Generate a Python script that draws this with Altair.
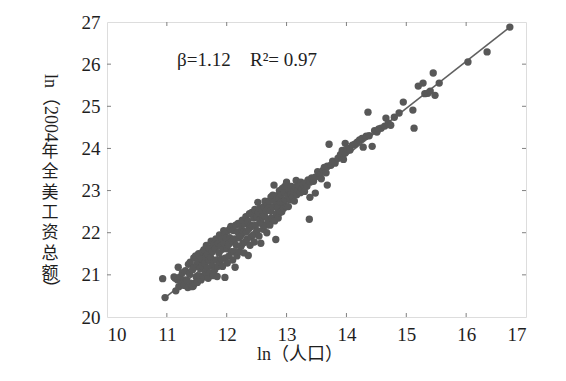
import altair as alt
import pandas as pd

# ---------------- data ----------------
x_ticks = [10, 11, 12, 13, 14, 15, 16, 17]
y_ticks = [20, 21, 22, 23, 24, 25, 26, 27]

pop_ln = [
    10.93, 10.97, 11.12, 11.14, 11.15, 11.18, 11.19, 11.20,
    11.22, 11.24, 11.26, 11.28, 11.29,
    11.31, 11.33, 11.35, 11.36, 11.38, 11.39, 11.40,
    11.42, 11.43, 11.44, 11.45, 11.46, 11.47, 11.48, 11.49, 11.50,
    11.51, 11.52, 11.53, 11.54, 11.55, 11.56, 11.57, 11.58, 11.59, 11.60,
    11.61, 11.62, 11.63, 11.64, 11.65, 11.66, 11.67, 11.68, 11.69, 11.70,
    11.71, 11.72, 11.73, 11.74, 11.75, 11.76, 11.77, 11.78, 11.79, 11.80,
    11.81, 11.82, 11.83, 11.84, 11.85, 11.86, 11.87, 11.88, 11.89, 11.90,
    11.91, 11.92, 11.93, 11.94, 11.95, 11.96, 11.97, 11.97, 11.98, 11.99, 12.00,
    12.01, 12.02, 12.03, 12.04, 12.05, 12.06, 12.07, 12.08, 12.09, 12.10,
    12.11, 12.12, 12.13, 12.14, 12.15, 12.16, 12.17, 12.18, 12.19, 12.20,
    12.21, 12.22, 12.23, 12.24, 12.25, 12.26, 12.27, 12.28, 12.29, 12.30,
    12.31, 12.32, 12.33, 12.34, 12.35, 12.36, 12.37, 12.38, 12.39, 12.40,
    12.41, 12.42, 12.43, 12.44, 12.45, 12.46, 12.47, 12.48, 12.49, 12.50,
    12.51, 12.52, 12.53, 12.54, 12.55, 12.56, 12.57, 12.58, 12.59, 12.60,
    12.61, 12.62, 12.63, 12.64, 12.65, 12.66, 12.67, 12.68, 12.69, 12.70,
    12.71, 12.72, 12.73, 12.74, 12.75, 12.77, 12.78, 12.79, 12.80,
    12.81, 12.82, 12.83, 12.84, 12.85, 12.86, 12.87, 12.88, 12.89, 12.90,
    12.91, 12.92, 12.93, 12.94, 12.95, 12.96, 12.97, 12.98, 13.00, 13.00,
    13.02, 13.03, 13.05, 13.06, 13.07, 13.08, 13.10,
    13.12, 13.13, 13.15, 13.16, 13.17, 13.19,
    13.21, 13.23, 13.24, 13.26, 13.28, 13.30,
    13.32, 13.34, 13.36, 13.38, 13.39, 13.39, 13.42, 13.45, 13.48, 13.48,
    13.52, 13.56, 13.58, 13.61, 13.63, 13.66, 13.68, 13.68, 13.71, 13.74,
    13.77, 13.81, 13.86, 13.90, 13.93, 13.95, 13.98, 13.98, 14.02, 14.06,
    14.10, 14.14, 14.18, 14.22, 14.26, 14.28, 14.33, 14.36, 14.38, 14.43,
    14.47, 14.51, 14.54, 14.58, 14.64, 14.66, 14.70, 14.74, 14.80, 14.88,
    14.95, 15.11, 15.13, 15.20, 15.28, 15.31, 15.36, 15.40, 15.45, 15.48,
    15.55, 16.03, 16.35, 16.73,
]

wage_ln = [
    20.91, 20.46, 20.95, 20.92, 20.62, 20.88, 21.18, 20.72,
    20.95, 20.82, 21.05, 20.88, 20.75,
    21.10, 20.88, 20.70, 21.25, 21.02, 21.30, 20.80,
    20.72, 21.12, 20.73, 21.40, 21.18, 20.80, 21.45, 20.95, 21.25,
    20.82, 21.32, 21.50, 20.98, 21.46, 21.15, 20.88, 21.38, 21.22, 21.55,
    20.95, 21.60, 21.28, 21.05, 21.42, 21.70, 21.15, 21.50, 20.92, 21.35,
    21.62, 21.05, 21.42, 21.80, 21.22, 21.55, 20.98, 21.72, 21.35, 21.12,
    21.62, 21.85, 21.35, 20.96, 21.20, 21.75, 21.52, 21.95, 21.30, 21.68,
    21.38, 21.85, 21.20, 21.62, 22.05, 21.75, 21.98, 20.94, 21.40, 21.88, 21.62,
    21.28, 22.05, 21.72, 21.45, 21.88, 22.10, 22.15, 21.55, 21.80, 21.35,
    22.05, 21.55, 21.85, 21.18, 22.18, 21.70, 21.45, 22.02, 22.22, 21.88,
    21.55, 22.20, 21.92, 21.68, 22.08, 22.30, 21.75, 22.02, 21.52, 22.22,
    21.78, 22.38, 22.02, 21.85, 22.28, 21.46, 22.10, 22.45, 21.70, 22.18,
    21.90, 22.48, 22.15, 21.95, 22.35, 21.78, 22.55, 22.18, 22.00, 22.38,
    22.05, 22.72, 22.48, 21.92, 22.30, 22.58, 21.75, 22.22, 22.52, 22.38,
    22.08, 22.62, 22.40, 22.75, 22.18, 22.52, 22.00, 22.68, 22.30, 22.58,
    22.75, 22.18, 22.52, 22.85, 22.35, 22.89, 22.62, 23.13, 22.28,
    22.75, 21.84, 22.45, 22.88, 22.60, 22.35, 22.80, 23.00, 22.48, 22.72,
    22.90, 22.50, 23.05, 22.72, 22.58, 22.95, 23.10, 22.78, 23.20, 22.62,
    22.88, 22.62, 23.00, 22.78, 22.92, 23.10, 22.85,
    22.98, 22.75, 23.08, 23.24, 22.90, 23.02,
    23.12, 22.95, 23.20, 23.05, 23.15, 22.98,
    23.18, 23.10, 23.25, 22.32, 23.20, 22.84, 23.30, 23.22, 23.32, 22.94,
    23.45, 23.36, 23.28, 23.48, 23.55, 23.42, 23.58, 23.13, 24.10, 23.60,
    23.70, 23.65, 23.77, 23.85, 23.95, 23.74, 23.89, 24.12, 24.00, 23.96,
    24.08, 24.10, 24.15, 24.20, 24.24, 24.03, 24.29, 24.86, 24.30, 24.05,
    24.42, 24.39, 24.46, 24.48, 24.53, 24.72, 24.60, 24.55, 24.74, 24.84,
    25.10, 24.91, 24.48, 25.48, 25.55, 25.30, 25.31, 25.36, 25.79, 25.26,
    25.55, 26.05, 26.29, 26.88,
]

fit_x = [10.97, 16.73]
fit_y = [20.46, 26.88]

beta_text = ["β=1.12"]
r2_text = ["R²= 0.97"]
x_title = ["ln（人口）"]
y_title_a = ["ln（2004"]
y_title_b = ["年\n全\n美\n工\n资\n总\n额"]
y_title_c = ["）"]

# ---------------- chart ----------------
W, H = 419, 295
SERIF = "Liberation Serif, Noto Sans CJK SC"
GRAY = "#585858"
FRAME = "#808080"
TXT = "#1e1e1e"

xs = alt.Scale(domain=[10, 17], nice=False, zero=False)
ys = alt.Scale(domain=[20, 27], nice=False, zero=False)

x_axis = alt.Axis(values=x_ticks, format="d", title=None, tickSize=0, domain=False, grid=False,
                  labelFont=SERIF, labelFontSize=19, labelColor=TXT, labelPadding=8)
y_axis = alt.Axis(values=y_ticks, format="d", title=None, tickSize=0, domain=False, grid=False,
                  labelFont=SERIF, labelFontSize=19, labelColor=TXT, labelPadding=7)

df = pd.DataFrame({"x": pop_ln, "y": wage_ln})
fit = pd.DataFrame({"x": fit_x, "y": fit_y})

pts = alt.Chart(df).mark_circle(size=54, color=GRAY, opacity=1).encode(
    x=alt.X("x:Q", scale=xs, axis=x_axis),
    y=alt.Y("y:Q", scale=ys, axis=y_axis),
)

line = alt.Chart(fit).mark_line(color="#606060", strokeWidth=1.6).encode(
    x=alt.X("x:Q", scale=xs, title=None),
    y=alt.Y("y:Q", scale=ys, title=None),
)

xt = pd.DataFrame({"t": x_ticks[1:-1]})
yt = pd.DataFrame({"t": y_ticks[1:-1]})
TL = 4
tick_b = alt.Chart(xt).mark_rule(color=FRAME, strokeWidth=1).encode(
    x=alt.X("t:Q", scale=xs, title=None), y=alt.value(H), y2=alt.value(H - TL))
tick_t = alt.Chart(xt).mark_rule(color=FRAME, strokeWidth=1).encode(
    x=alt.X("t:Q", scale=xs, title=None), y=alt.value(0), y2=alt.value(TL))
tick_l = alt.Chart(yt).mark_rule(color=FRAME, strokeWidth=1).encode(
    y=alt.Y("t:Q", scale=ys, title=None), x=alt.value(0), x2=alt.value(TL))
tick_r = alt.Chart(yt).mark_rule(color=FRAME, strokeWidth=1).encode(
    y=alt.Y("t:Q", scale=ys, title=None), x=alt.value(W - TL), x2=alt.value(W))

beta = alt.Chart(pd.DataFrame({"t": beta_text})).mark_text(
    font=SERIF, fontSize=19, color=TXT, align="left", baseline="middle").encode(
    text="t:N", x=alt.value(70), y=alt.value(38))
r2 = alt.Chart(pd.DataFrame({"t": r2_text})).mark_text(
    font=SERIF, fontSize=19, color=TXT, align="left", baseline="middle").encode(
    text="t:N", x=alt.value(143), y=alt.value(38))

xtitle = alt.Chart(pd.DataFrame({"t": x_title})).mark_text(
    font=SERIF, fontSize=18, color=TXT, align="center", baseline="middle").encode(
    text="t:N", x=alt.value(193), y=alt.value(333))

yta = alt.Chart(pd.DataFrame({"t": y_title_a})).mark_text(
    font=SERIF, fontSize=18, color=TXT, align="center", baseline="middle", angle=90).encode(
    text="t:N", x=alt.value(-57), y=alt.value(86))
ytb = alt.Chart(pd.DataFrame({"t": y_title_b})).mark_text(
    font=SERIF, fontSize=17, color=TXT, align="center", baseline="middle",
    lineBreak="\n", lineHeight=20.3).encode(
    text="t:N", x=alt.value(-57), y=alt.value(130))
ytc = alt.Chart(pd.DataFrame({"t": y_title_c})).mark_text(
    font=SERIF, fontSize=18, color=TXT, align="center", baseline="middle", angle=90).encode(
    text="t:N", x=alt.value(-57), y=alt.value(266))

chart = alt.layer(
    line, pts, tick_b, tick_t, tick_l, tick_r, beta, r2, xtitle, yta, ytb, ytc
).properties(
    width=W, height=H,
    autosize=alt.AutoSizeParams(type="none"),
    padding={"left": 99, "top": 14, "right": 32, "bottom": 56},
).configure_view(
    stroke=FRAME, strokeWidth=1.5
).configure(background="white")

chart.save("out.html", embed_options={"renderer": "svg", "actions": False})
